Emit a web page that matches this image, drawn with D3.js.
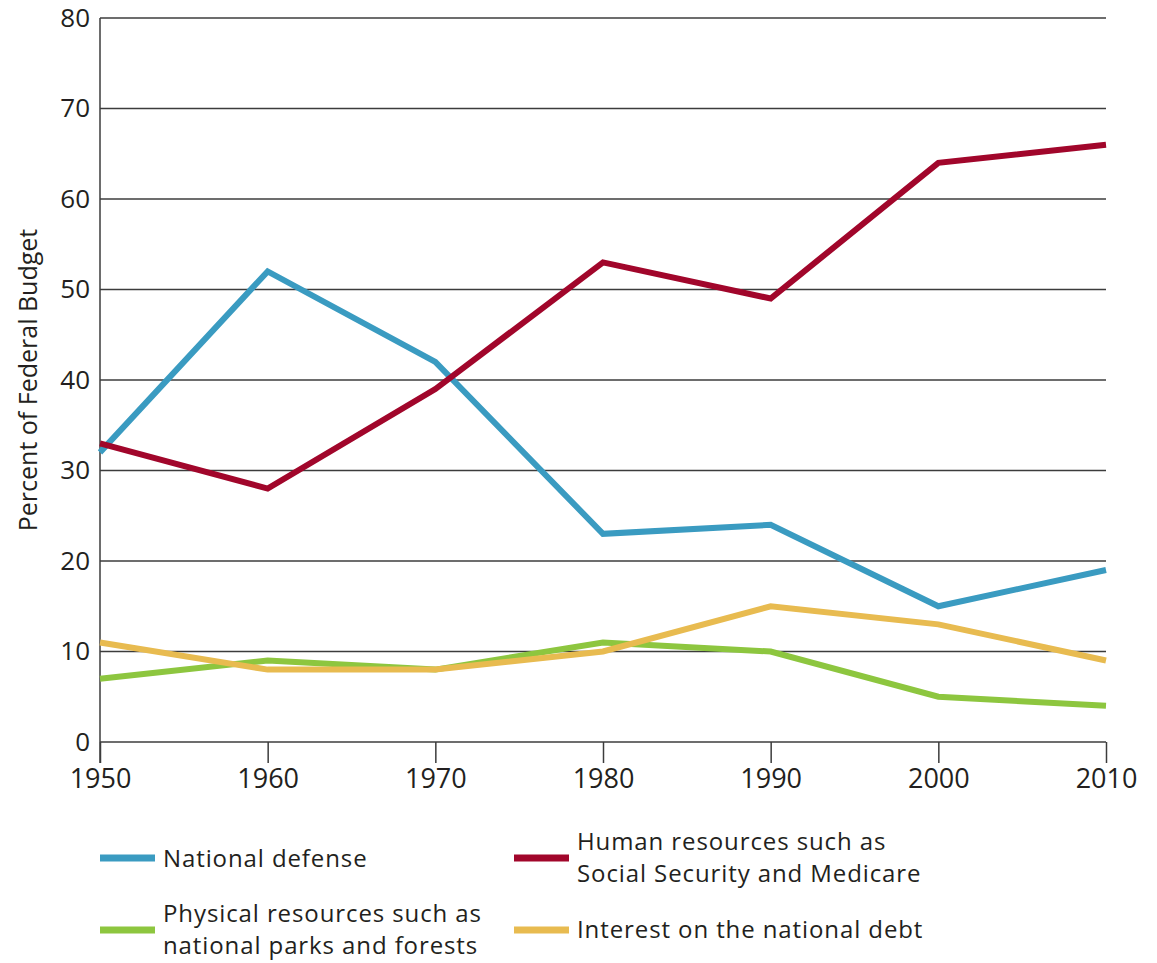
<!DOCTYPE html>
<html>
<head>
<meta charset="utf-8">
<script src="https://cdn.jsdelivr.net/npm/d3@7"></script>
<style>
  body { margin: 0; background: #fff; }
  text { font-family: "Open Sans", "Noto Sans", sans-serif; fill: #231f20; }
</style>
</head>
<body>
<div class="chart"></div>
<script>
var svgWidth = 1157;
var svgHeight = 963;

var margin = { top: 18, right: 51, bottom: 221, left: 100 };
var width = svgWidth - margin.left - margin.right;
var height = svgHeight - margin.top - margin.bottom;

// data
var years = [1950, 1960, 1970, 1980, 1990, 2000, 2010];
var defense = [32, 52, 42, 23, 24, 15, 19];
var humanRes = [33, 28, 39, 53, 49, 64, 66];
var physicalRes = [7, 9, 8, 11, 10, 5, 4];
var interest = [11, 8, 8, 10, 15, 13, 9];
var yTicks = [0, 10, 20, 30, 40, 50, 60, 70, 80];

var series = [
    { name: "physical", values: physicalRes, color: "#8dc63f" },
    { name: "interest", values: interest, color: "#e8bb50" },
    { name: "defense", values: defense, color: "#3a9bc1" },
    { name: "human", values: humanRes, color: "#a1062b" }
];

var svg = d3.select(".chart")
    .append("svg")
    .attr("width", svgWidth)
    .attr("height", svgHeight);

var chartGroup = svg.append("g")
    .attr("transform", `translate(${margin.left}, ${margin.top})`);

var xScale = d3.scaleLinear().domain([1950, 2010]).range([0, width]);
var yScale = d3.scaleLinear().domain([0, 80]).range([height, 0]);

// horizontal grid lines
chartGroup.append("g")
    .selectAll("line")
    .data(yTicks)
    .enter()
    .append("line")
    .attr("x1", 0)
    .attr("x2", width)
    .attr("y1", d => yScale(d))
    .attr("y2", d => yScale(d))
    .attr("stroke", "#3c3c3c")
    .attr("stroke-width", 1.5);

// x axis
var bottomAxis = d3.axisBottom(xScale)
    .tickValues(years)
    .tickFormat(d3.format("d"))
    .tickSize(21)
    .tickPadding(6);

var xAxis = chartGroup.append("g")
    .attr("transform", `translate(0, ${height})`)
    .call(bottomAxis);
xAxis.select(".domain").remove();
xAxis.selectAll("line").attr("stroke", "#3c3c3c").attr("stroke-width", 1.5);
xAxis.selectAll("text")
    .attr("font-size", 27)
    .attr("font-family", "Open Sans")
    .attr("fill", "#231f20");

// y axis
var leftAxis = d3.axisLeft(yScale)
    .tickValues(yTicks)
    .tickSize(0)
    .tickPadding(10);

var yAxis = chartGroup.append("g").call(leftAxis);
yAxis.select(".domain").remove();
yAxis.selectAll("text")
    .attr("font-size", 26)
    .attr("font-family", "Open Sans")
    .attr("fill", "#231f20");

chartGroup.append("line")
    .attr("x1", 0).attr("x2", 0)
    .attr("y1", 0).attr("y2", height + 21)
    .attr("stroke", "#3c3c3c")
    .attr("stroke-width", 1.5);

// y label
chartGroup.append("text")
    .attr("transform", "rotate(-90)")
    .attr("x", 0 - 362)
    .attr("y", -63)
    .attr("text-anchor", "middle")
    .attr("font-size", 25)
    .text("Percent of Federal Budget");

// lines
var line = d3.line()
    .x((d, i) => xScale(years[i]))
    .y(d => yScale(d));

chartGroup.selectAll(".series")
    .data(series)
    .enter()
    .append("path")
    .attr("class", "series")
    .attr("d", d => line(d.values))
    .attr("fill", "none")
    .attr("stroke", d => d.color)
    .attr("stroke-width", 6)
    .attr("stroke-linejoin", "miter");

// legend
var legendItems = [
    { color: "#3a9bc1", x: 100, y: 858, lines: ["National defense"], ty: 867 },
    { color: "#a1062b", x: 514, y: 858, lines: ["Human resources such as", "Social Security and Medicare"], ty: 850 },
    { color: "#8dc63f", x: 100, y: 930, lines: ["Physical resources such as", "national parks and forests"], ty: 922 },
    { color: "#e8bb50", x: 514, y: 930, lines: ["Interest on the national debt"], ty: 938 }
];

var legend = svg.append("g");
legendItems.forEach(function (item) {
    legend.append("line")
        .attr("x1", item.x).attr("x2", item.x + 55)
        .attr("y1", item.y).attr("y2", item.y)
        .attr("stroke", item.color)
        .attr("stroke-width", 7);
    item.lines.forEach(function (t, i) {
        legend.append("text")
            .attr("x", item.x + 63)
            .attr("y", item.ty + i * 32)
            .attr("font-size", 24)
            .attr("letter-spacing", 0.9)
            .text(t);
    });
});
</script>
</body>
</html>
